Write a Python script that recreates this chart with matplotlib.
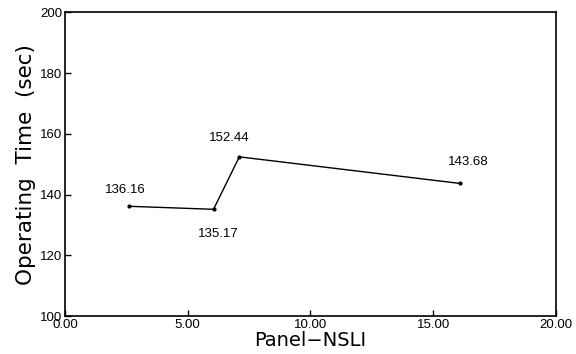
import matplotlib
matplotlib.use('AGG')
import matplotlib.pyplot as plt

# panel NSLI vs operating time
nsli = [2.6, 6.05, 7.1, 16.1]
op_time = [136.16, 135.17, 152.44, 143.68]
# label offsets in pixels (dx, dy) from each point
label_off = [(-4, 16), (5, -25), (-10, 19), (8, 21)]

xticks = [0, 5, 10, 15, 20]
yticks = [100, 120, 140, 160, 180, 200]

plt.rcParams['font.family'] = ['Liberation Sans', 'DejaVu Sans']

fig = plt.figure(figsize=(5.76, 3.54), dpi=100)
ax = fig.add_axes([0.113, 0.107, 0.852, 0.858])

ax.plot(nsli, op_time, color='black', lw=1.0, marker='o', ms=2)
for x, y, (dx, dy) in zip(nsli, op_time, label_off):
    ax.annotate('%.2f' % y, (x, y), xytext=(dx, dy), textcoords='offset pixels',
                ha='center', va='center', fontsize=9.5)

ax.set_xlim(0, 20)
ax.set_ylim(100, 200)
ax.set_xticks(xticks)
ax.set_xticklabels(['%.2f' % t for t in xticks])
ax.set_yticks(yticks)
ax.tick_params(direction='in', length=4, width=1, labelsize=9.5, pad=2)
for s in ax.spines.values():
    s.set_linewidth(1.2)

ax.set_xlabel('Panel\u2212NSLI', fontsize=14, family='DejaVu Sans', labelpad=0)
ax.set_ylabel('Operating  Time  (sec)', fontsize=15.5, family='DejaVu Sans',
              labelpad=3)

plt.savefig('out.png', dpi=100)
plt.close('all')
